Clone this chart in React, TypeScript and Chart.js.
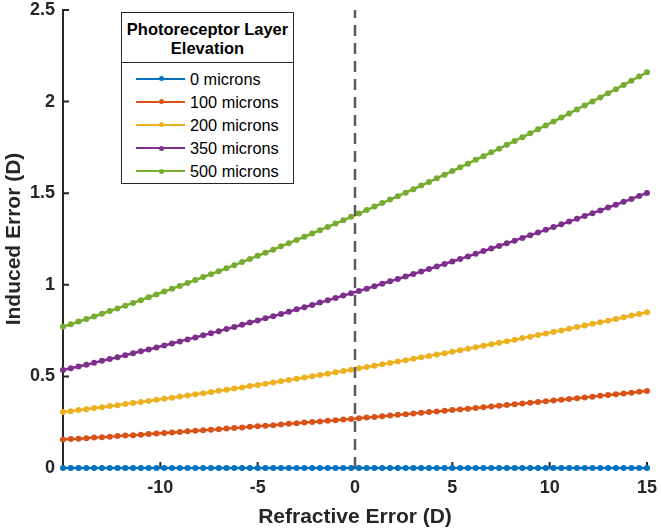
import React, { useEffect, useRef } from "react";
import { Chart, registerables } from "chart.js";

Chart.register(...registerables);

// refractive error (D), sampled every 0.4 D
const refractiveError = [
  -15, -14.6, -14.2, -13.8, -13.4, -13, -12.6, -12.2, -11.8, -11.4,
  -11, -10.6, -10.2, -9.8, -9.4, -9, -8.6, -8.2, -7.8, -7.4,
  -7, -6.6, -6.2, -5.8, -5.4, -5, -4.6, -4.2, -3.8, -3.4,
  -3, -2.6, -2.2, -1.8, -1.4, -1, -0.6, -0.2,
  0.2, 0.6, 1, 1.4, 1.8, 2.2, 2.6, 3, 3.4, 3.8,
  4.2, 4.6, 5, 5.4, 5.8, 6.2, 6.6, 7, 7.4, 7.8,
  8.2, 8.6, 9, 9.4, 9.8, 10.2, 10.6, 11, 11.4, 11.8,
  12.2, 12.6, 13, 13.4, 13.8, 14.2, 14.6, 15,
];

const err0 = [
  0, 0, 0, 0, 0, 0, 0, 0, 0, 0,
  0, 0, 0, 0, 0, 0, 0, 0, 0, 0,
  0, 0, 0, 0, 0, 0, 0, 0, 0, 0,
  0, 0, 0, 0, 0, 0, 0, 0, 0, 0,
  0, 0, 0, 0, 0, 0, 0, 0, 0, 0,
  0, 0, 0, 0, 0, 0, 0, 0, 0, 0,
  0, 0, 0, 0, 0, 0, 0, 0, 0, 0,
  0, 0, 0, 0, 0, 0,
];

const err100 = [
  0.155, 0.158, 0.160, 0.163, 0.166, 0.168, 0.171, 0.174, 0.177, 0.179,
  0.182, 0.185, 0.188, 0.191, 0.194, 0.197, 0.200, 0.203, 0.206, 0.209,
  0.212, 0.215, 0.218, 0.221, 0.225, 0.228, 0.231, 0.234, 0.238, 0.241,
  0.244, 0.248, 0.251, 0.254, 0.258, 0.261, 0.265, 0.268,
  0.272, 0.275, 0.279, 0.283, 0.286, 0.290, 0.293, 0.297, 0.301, 0.305,
  0.308, 0.312, 0.316, 0.320, 0.324, 0.328, 0.332, 0.336, 0.340, 0.344,
  0.348, 0.352, 0.356, 0.360, 0.364, 0.368, 0.372, 0.377, 0.381, 0.385,
  0.389, 0.394, 0.398, 0.402, 0.407, 0.411, 0.416, 0.420,
];

const err200 = [
  0.305, 0.310, 0.316, 0.321, 0.327, 0.332, 0.338, 0.343, 0.349, 0.355,
  0.360, 0.366, 0.372, 0.378, 0.384, 0.390, 0.396, 0.402, 0.408, 0.415,
  0.421, 0.427, 0.434, 0.440, 0.447, 0.453, 0.460, 0.467, 0.473, 0.480,
  0.487, 0.494, 0.501, 0.508, 0.515, 0.522, 0.529, 0.536,
  0.544, 0.551, 0.558, 0.566, 0.573, 0.581, 0.588, 0.596, 0.604, 0.611,
  0.619, 0.627, 0.635, 0.643, 0.651, 0.659, 0.667, 0.675, 0.684, 0.692,
  0.700, 0.709, 0.717, 0.726, 0.734, 0.743, 0.751, 0.760, 0.769, 0.778,
  0.787, 0.795, 0.804, 0.813, 0.823, 0.832, 0.841, 0.850,
];

const err350 = [
  0.535, 0.544, 0.554, 0.564, 0.574, 0.585, 0.595, 0.605, 0.616, 0.626,
  0.637, 0.647, 0.658, 0.669, 0.680, 0.691, 0.702, 0.713, 0.724, 0.736,
  0.747, 0.759, 0.770, 0.782, 0.794, 0.805, 0.817, 0.829, 0.841, 0.853,
  0.866, 0.878, 0.890, 0.903, 0.915, 0.928, 0.941, 0.954,
  0.966, 0.979, 0.992, 1.006, 1.019, 1.032, 1.045, 1.059, 1.072, 1.086,
  1.100, 1.114, 1.127, 1.141, 1.155, 1.169, 1.184, 1.198, 1.212, 1.227,
  1.241, 1.256, 1.271, 1.285, 1.300, 1.315, 1.330, 1.345, 1.360, 1.376,
  1.391, 1.406, 1.422, 1.437, 1.453, 1.469, 1.485, 1.501,
];

const err500 = [
  0.771, 0.785, 0.799, 0.813, 0.827, 0.842, 0.857, 0.871, 0.886, 0.901,
  0.916, 0.932, 0.947, 0.963, 0.978, 0.994, 1.010, 1.026, 1.042, 1.058,
  1.074, 1.091, 1.107, 1.124, 1.141, 1.158, 1.175, 1.192, 1.210, 1.227,
  1.245, 1.262, 1.280, 1.298, 1.316, 1.334, 1.352, 1.371,
  1.389, 1.408, 1.427, 1.446, 1.465, 1.484, 1.503, 1.522, 1.542, 1.561,
  1.581, 1.601, 1.621, 1.641, 1.661, 1.682, 1.702, 1.723, 1.743, 1.764,
  1.785, 1.806, 1.827, 1.849, 1.870, 1.892, 1.913, 1.935, 1.957, 1.979,
  2.001, 2.023, 2.046, 2.068, 2.091, 2.114, 2.137, 2.160,
];

const seriesNames = ["0 microns", "100 microns", "200 microns", "350 microns", "500 microns"];
const seriesValues = [err0, err100, err200, err350, err500];
const seriesColors = ["#0072BD", "#D95319", "#EDB120", "#7E2F8E", "#77AC30"];

// vertical reference line at emmetropia
const refLineX = [0, 0];
const refLineY = [0, 2.5];

const xTicks = [-15, -10, -5, 0, 5, 10, 15];
const yTicks = [0, 0.5, 1, 1.5, 2, 2.5];

const FONT = "'Liberation Sans', Arial, Helvetica, sans-serif";
const AXIS = "#262626";

// MATLAB-style ticks pointing into the plot area
const inwardTicks = {
  id: "inwardTicks",
  beforeDatasetsDraw(chart: any) {
    const { ctx, chartArea, scales } = chart;
    ctx.save();
    ctx.strokeStyle = AXIS;
    ctx.lineWidth = 2;
    ctx.beginPath();
    xTicks.forEach((v) => {
      const px = scales.x.getPixelForValue(v);
      ctx.moveTo(px, chartArea.bottom);
      ctx.lineTo(px, chartArea.bottom - 6);
    });
    yTicks.forEach((v) => {
      const py = scales.y.getPixelForValue(v);
      ctx.moveTo(chartArea.left, py);
      ctx.lineTo(chartArea.left + 6, py);
    });
    ctx.stroke();
    ctx.restore();
  },
};

const noScalePadding = (s: any) => {
  s.paddingTop = 0;
  s.paddingBottom = 0;
  s.paddingLeft = 0;
  s.paddingRight = 0;
};

function Legend() {
  const rowCenters = [65.5, 88.7, 111.8, 135, 158];
  return (
    <div
      style={{
        position: "absolute",
        left: 121,
        top: 12,
        width: 171,
        height: 170,
        border: `1.5px solid ${AXIS}`,
        background: "#fff",
        fontFamily: FONT,
        color: "#000",
      }}
    >
      <div
        style={{
          position: "absolute",
          left: 0,
          right: 0,
          top: 0,
          height: 50,
          borderBottom: `1.5px solid ${AXIS}`,
          fontWeight: "bold",
          fontSize: 16.5,
          lineHeight: "19px",
          textAlign: "center",
          paddingTop: 7,
          boxSizing: "border-box",
          whiteSpace: "nowrap",
        }}
      >
        Photoreceptor Layer
        <br />
        Elevation
      </div>
      {seriesNames.map((name, i) => (
        <div key={name} style={{ position: "absolute", left: 0, top: rowCenters[i] - 12, height: 24, width: "100%" }}>
          <div
            style={{
              position: "absolute",
              left: 14,
              top: 11,
              width: 49,
              height: 2,
              background: seriesColors[i],
            }}
          />
          <div
            style={{
              position: "absolute",
              left: 37,
              top: 9.5,
              width: 5,
              height: 5,
              borderRadius: "50%",
              background: seriesColors[i],
            }}
          />
          <div
            style={{
              position: "absolute",
              left: 68,
              top: 0,
              lineHeight: "24px",
              fontSize: 16.3,
              whiteSpace: "nowrap",
            }}
          >
            {name}
          </div>
        </div>
      ))}
    </div>
  );
}

export default function App() {
  const canvasRef = useRef<HTMLCanvasElement | null>(null);
  const chartRef = useRef<any>(null);

  useEffect(() => {
    document.body.style.margin = "0";
    if (!canvasRef.current) return;
    if (chartRef.current) chartRef.current.destroy();

    const datasets: any[] = seriesNames.map((name, i) => ({
      label: name,
      data: refractiveError.map((x, j) => ({ x, y: seriesValues[i][j] })),
      borderColor: seriesColors[i],
      backgroundColor: seriesColors[i],
      borderWidth: 2.5,
      pointRadius: 3,
      pointBorderWidth: 0,
      showLine: true,
      clip: false,
      order: 5 - i,
    }));

    datasets.push({
      label: "ref",
      data: refLineX.map((x, j) => ({ x, y: refLineY[j] })),
      borderColor: "#5a5a5a",
      borderWidth: 2.5,
      borderDash: [11, 7],
      pointRadius: 0,
      showLine: true,
      order: -1,
    });

    chartRef.current = new Chart(canvasRef.current, {
      type: "scatter",
      data: { datasets },
      options: {
        animation: false,
        responsive: false,
        maintainAspectRatio: false,
        layout: { padding: { left: 0, right: 14, top: 10, bottom: 0 } },
        plugins: {
          legend: { display: false },
          tooltip: { enabled: false },
        },
        scales: {
          x: {
            type: "linear",
            min: -15,
            max: 15,
            afterFit: (s: any) => {
              s.height = 64;
              noScalePadding(s);
            },
            afterBuildTicks: (s: any) => {
              s.ticks = xTicks.map((v) => ({ value: v }));
            },
            grid: { display: false, drawTicks: false },
            border: { display: true, color: AXIS, width: 2 },
            ticks: {
              padding: 11,
              color: AXIS,
              font: { family: FONT, size: 18, weight: "bold", lineHeight: 1 },
              callback: (v: any) => (v === -15 ? "" : String(v)),
              maxRotation: 0,
            },
            title: {
              display: true,
              text: "Refractive Error (D)",
              color: AXIS,
              font: { family: FONT, size: 21, weight: "bold" },
              padding: { top: 0, bottom: 2 },
            },
          },
          y: {
            type: "linear",
            min: 0,
            max: 2.5,
            afterFit: (s: any) => {
              s.width = 63;
              noScalePadding(s);
            },
            afterBuildTicks: (s: any) => {
              s.ticks = yTicks.map((v) => ({ value: v }));
            },
            grid: { display: false, drawTicks: false },
            border: { display: true, color: AXIS, width: 2 },
            ticks: {
              padding: 8,
              color: AXIS,
              font: { family: FONT, size: 18, weight: "bold", lineHeight: 1 },
              callback: (v: any) => String(v),
            },
            title: {
              display: true,
              text: "Induced Error (D)",
              color: AXIS,
              font: { family: FONT, size: 21, weight: "bold" },
              padding: { top: 2, bottom: 0 },
            },
          },
        },
      },
      plugins: [inwardTicks],
    });

    return () => chartRef.current?.destroy();
  }, []);

  return (
    <div style={{ position: "relative", width: 661, height: 532, background: "#fff" }}>
      <canvas ref={canvasRef} width={661} height={532} />
      <Legend />
    </div>
  );
}
